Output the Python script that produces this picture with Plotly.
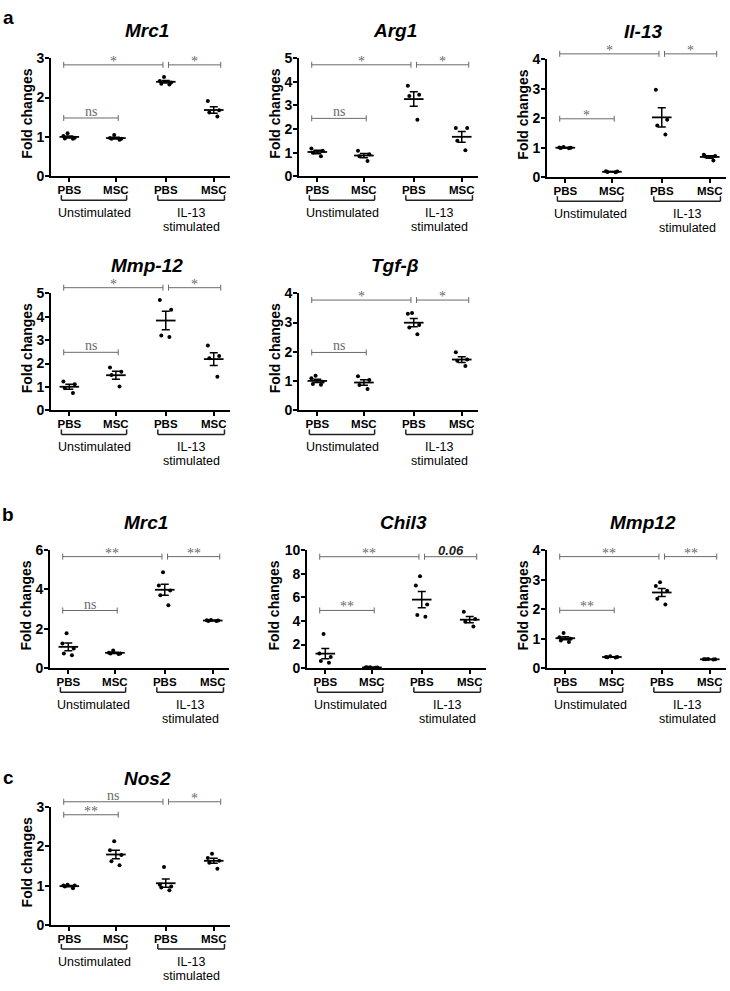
import numpy as np
import plotly.graph_objects as go

# ---------------- data ----------------
group_labels = ["PBS", "MSC", "PBS", "MSC"]
condition_labels = ["Unstimulated", "IL-13", "stimulated"]
positions = [1.0, 2.0, 3.07, 4.1]

genes = ["Mrc1", "Arg1", "Il-13", "Mmp-12", "Tgf-β", "Mrc1", "Chil3", "Mmp12", "Nos2"]

a_mrc1 = [[1.09, 1.02, 0.95, 0.96, 0.98], [1.05, 0.97, 0.93, 0.95, 0.95],
          [2.52, 2.42, 2.33, 2.35, 2.38], [1.91, 1.68, 1.62, 1.52]]
a_arg1 = [[1.18, 1.08, 1.0, 0.85], [1.08, 0.93, 0.85, 0.65],
          [3.83, 3.4, 3.45, 2.39], [2.04, 2.04, 1.5, 1.1]]
a_il13 = [[1.02, 1.0, 0.98, 1.01, 0.99], [0.18, 0.2, 0.19, 0.17],
          [2.96, 1.95, 1.75, 1.45], [0.76, 0.72, 0.7, 0.57]]
a_mmp12 = [[1.23, 1.12, 0.95, 0.74], [1.83, 1.65, 1.51, 1.02],
           [4.72, 4.3, 3.2, 3.13], [2.77, 2.32, 2.23, 1.44]]
a_tgfb = [[1.18, 1.1, 0.98, 0.9, 0.88], [1.17, 1.04, 0.87, 0.73],
          [3.33, 3.3, 2.92, 2.83, 2.6], [1.99, 1.74, 1.7, 1.52]]
b_mrc1 = [[1.77, 1.25, 1.0, 0.75, 0.65], [0.9, 0.78, 0.75, 0.72, 0.75],
          [4.87, 4.2, 3.95, 3.7, 3.2], [2.45, 2.43, 2.4, 2.4, 2.42]]
b_chil3 = [[2.9, 1.25, 0.95, 0.6, 0.45], [0.08, 0.06, 0.05, 0.04, 0.07],
           [7.78, 7.0, 5.4, 4.5, 4.35], [4.78, 4.17, 3.94, 3.53]]
b_mmp12 = [[1.19, 1.05, 1.0, 0.94, 0.89], [0.4, 0.38, 0.37, 0.38, 0.36],
           [2.91, 2.78, 2.62, 2.35, 2.16], [0.3, 0.3, 0.29, 0.31, 0.3]]
c_nos2 = [[1.02, 1.0, 0.98, 0.93, 1.0], [2.13, 1.9, 1.78, 1.62, 1.52],
          [1.47, 1.02, 0.98, 0.95, 0.88], [1.81, 1.7, 1.63, 1.58, 1.43]]

panel_data = [a_mrc1, a_arg1, a_il13, a_mmp12, a_tgfb, b_mrc1, b_chil3, b_mmp12, c_nos2]
y_max = [3, 5, 4, 5, 4, 6, 10, 4, 3]
y_step = [1, 1, 1, 1, 1, 2, 2, 1, 1]

# significance: (label, group i, group j, y level)
sig_a_mrc1 = [("*", 0, 2, 2.83), ("*", 2, 3, 2.83), ("ns", 0, 1, 1.48)]
sig_a_arg1 = [("*", 0, 2, 4.72), ("*", 2, 3, 4.72), ("ns", 0, 1, 2.45)]
sig_a_il13 = [("*", 0, 2, 4.18), ("*", 2, 3, 4.18), ("*", 0, 1, 1.98)]
sig_a_mmp12 = [("*", 0, 2, 5.24), ("*", 2, 3, 5.24), ("ns", 0, 1, 2.48)]
sig_a_tgfb = [("*", 0, 2, 3.77), ("*", 2, 3, 3.77), ("ns", 0, 1, 1.98)]
sig_b_mrc1 = [("**", 0, 2, 5.67), ("**", 2, 3, 5.67), ("ns", 0, 1, 2.93)]
sig_b_chil3 = [("**", 0, 2, 9.44), ("0.06", 2, 3, 9.44), ("**", 0, 1, 4.89)]
sig_b_mmp12 = [("**", 0, 2, 3.78), ("**", 2, 3, 3.78), ("**", 0, 1, 1.96)]
sig_c_nos2 = [("ns", 0, 2, 3.13), ("*", 2, 3, 3.13), ("**", 0, 1, 2.8)]
panel_sigs = [sig_a_mrc1, sig_a_arg1, sig_a_il13, sig_a_mmp12, sig_a_tgfb,
              sig_b_mrc1, sig_b_chil3, sig_b_mmp12, sig_c_nos2]

panel_letters = {0: "a", 5: "b", 8: "c"}

# ---------------- layout geometry (px) ----------------
W, H = 730, 991
AXW = 179
X_RANGE = [0.607, 4.449]
# (y-axis x position, top, bottom)
geom = [(51, 51, 171), (299, 51, 171), (547, 52, 172),
        (51, 290, 409), (299, 290, 409),
        (50, 551, 671), (307, 551, 671), (547, 551, 671),
        (51, 812, 932)]
letter_pos = {0: (8, 10), 5: (8, 515), 8: (8, 782)}

SANS = "Liberation Sans"
SERIF = "Liberation Serif"
SIG_COLOR = "#6a6a6a"

fig = go.Figure()
shapes = []
annotations = []
layout_axes = {}

for k, data in enumerate(panel_data):
    n = k + 1
    xa = "x" if n == 1 else f"x{n}"
    ya = "y" if n == 1 else f"y{n}"
    xkey = "xaxis" if n == 1 else f"xaxis{n}"
    ykey = "yaxis" if n == 1 else f"yaxis{n}"
    x0px, top, bot = geom[k]
    ymax = y_max[k]

    # points
    for g, vals in enumerate(data):
        fig.add_trace(go.Box(
            x=[positions[g]] * len(vals), y=vals, xaxis=xa, yaxis=ya,
            boxpoints="all", jitter=0.6, pointpos=0, width=0.5,
            fillcolor="rgba(0,0,0,0)", line=dict(color="rgba(0,0,0,0)", width=0),
            marker=dict(color="black", size=4), whiskerwidth=0,
            hoverinfo="y", showlegend=False))
    # mean +- SEM
    means = [float(np.mean(v)) for v in data]
    sems = [float(np.std(v, ddof=1) / np.sqrt(len(v))) for v in data]
    fig.add_trace(go.Scatter(
        x=positions, y=means, xaxis=xa, yaxis=ya, mode="markers",
        marker=dict(symbol="line-ew", size=14, line=dict(color="black", width=1.8)),
        error_y=dict(type="data", array=sems, visible=True, color="black",
                     thickness=1.5, width=4),
        cliponaxis=False, showlegend=False))

    layout_axes[xkey] = dict(
        domain=[x0px / W, (x0px + AXW) / W], anchor=ya, range=X_RANGE,
        showline=True, linecolor="black", linewidth=1.8, showgrid=False,
        zeroline=False, ticks="outside", ticklen=4, tickwidth=1.5, tickcolor="black",
        tickvals=positions, ticktext=group_labels,
        tickfont=dict(family=SANS, size=11.5, color="black", weight="bold"),
        ticklabelstandoff=-2, fixedrange=True)
    layout_axes[ykey] = dict(
        domain=[1 - bot / H, 1 - top / H], anchor=xa, range=[0, ymax],
        showline=True, linecolor="black", linewidth=1.8, showgrid=False,
        zeroline=False, ticks="outside", ticklen=4, tickwidth=1.8,
        tickcolor="black", tickvals=list(range(0, ymax + 1, y_step[k])),
        tickfont=dict(family=SANS, size=14, color="black", weight="bold"),
        ticklabelstandoff=-2, fixedrange=True)

    # title
    annotations.append(dict(
        text=genes[k], xref=f"{xa} domain", yref=f"{ya} domain", x=96 / AXW, y=1,
        yshift=28, showarrow=False, xanchor="center", yanchor="middle",
        font=dict(family=SANS, size=19, color="black", weight="bold", style="italic")))
    # y title
    annotations.append(dict(
        text="Fold changes", xref=f"{xa} domain", yref=f"{ya} domain", x=0, y=0.53,
        xshift=-33 if ymax >= 10 else -24, textangle=-90, showarrow=False,
        xanchor="center", yanchor="middle",
        font=dict(family=SANS, size=14, color="black", weight="bold")))

    # condition brackets below axis
    for (i, j) in [(0, 1), (2, 3)]:
        xl, xr = positions[i] - 0.17, positions[j] + 0.23
        common = dict(type="line", xref=xa, yref=f"{ya} domain", ysizemode="pixel",
                      yanchor=0, line=dict(color="#222", width=1.5))
        shapes.append(dict(common, x0=xl, x1=xr, y0=-24, y1=-24))
        shapes.append(dict(common, x0=xl, x1=xl, y0=-24, y1=-19))
        shapes.append(dict(common, x0=xr, x1=xr, y0=-24, y1=-19))
    cond_font = dict(family=SANS, size=12.5, color="black")
    annotations.append(dict(text=condition_labels[0], xref=xa, yref=f"{ya} domain",
                            x=(positions[0] + positions[1]) / 2 + 0.04, y=0, yshift=-37,
                            showarrow=False, yanchor="middle", font=cond_font))
    annotations.append(dict(text=condition_labels[1], xref=xa, yref=f"{ya} domain",
                            x=(positions[2] + positions[3]) / 2 + 0.04, y=0, yshift=-37,
                            showarrow=False, yanchor="middle", font=cond_font))
    annotations.append(dict(text=condition_labels[2], xref=xa, yref=f"{ya} domain",
                            x=(positions[2] + positions[3]) / 2 + 0.04, y=0, yshift=-51,
                            showarrow=False, yanchor="middle", font=cond_font))

    # significance brackets
    for (lab, i, j, yv) in panel_sigs[k]:
        xl = positions[i] + (0.06 if i == 2 else -0.12)
        xr = positions[j] + (-0.06 if j == 2 else (0.05 if j == 1 else 0.15))
        yd = yv / ymax
        shapes.append(dict(type="line", xref=xa, yref=f"{ya} domain", x0=xl, x1=xr,
                           y0=yd, y1=yd, line=dict(color=SIG_COLOR, width=1)))
        for xe in (xl, xr):
            shapes.append(dict(type="line", xref=xa, yref=f"{ya} domain",
                               ysizemode="pixel", yanchor=yd, x0=xe, x1=xe, y0=-3, y1=3,
                               line=dict(color=SIG_COLOR, width=1)))
        if lab == "0.06":
            f = dict(family=SANS, size=13, color="#222", weight="bold", style="italic")
            ys = -3
        elif lab == "ns":
            f = dict(family=SERIF, size=14, color=SIG_COLOR)
            ys = -3
        else:
            f = dict(family=SERIF, size=14, color=SIG_COLOR)
            ys = -6
        annotations.append(dict(text=lab, xref=xa, yref=f"{ya} domain",
                                x=(xl + xr) / 2, y=yd, yshift=ys, showarrow=False,
                                xanchor="center", yanchor="bottom", font=f))

for k, letter in panel_letters.items():
    px, py = letter_pos[k]
    annotations.append(dict(text=letter, xref="paper", yref="paper", x=px / W,
                            y=1 - py / H, showarrow=False, xanchor="center",
                            yanchor="middle",
                            font=dict(family=SANS, size=19, color="black", weight="bold")))

fig.update_layout(
    width=W, height=H, margin=dict(l=0, r=0, t=0, b=0),
    paper_bgcolor="white", plot_bgcolor="white", showlegend=False,
    boxmode="overlay", shapes=shapes, annotations=annotations, **layout_axes)

post = (
    "var de=document.documentElement, b=document.body;"
    "de.style.margin='0';de.style.padding='0';de.style.overflow='hidden';de.style.height='991px';"
    "b.style.margin='0';b.style.padding='0';b.style.overflow='hidden';b.style.height='991px';"
    "var gd=document.getElementById('{plot_id}');"
    "if(gd&&gd.parentElement){gd.parentElement.style.height='991px';"
    "gd.parentElement.style.overflow='hidden';gd.parentElement.style.lineHeight='0';}"
)
fig.write_html("out.html", config={"displayModeBar": False}, post_script=post)
